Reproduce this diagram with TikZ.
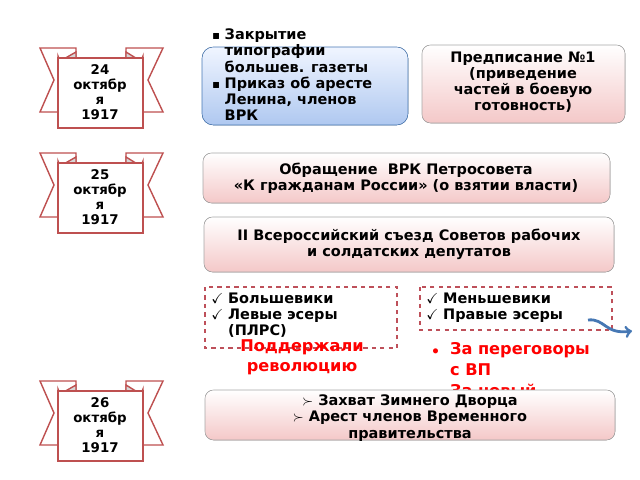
\documentclass[tikz,border=0pt]{standalone}
\usepackage{fontspec}
\setmainfont{DejaVu Sans}
\usepackage{amssymb}
\usetikzlibrary{positioning}

\definecolor{rib}{RGB}{190,80,80}
\definecolor{curl}{RGB}{215,215,215}
\definecolor{pinkA}{RGB}{255,255,255}
\definecolor{pinkB}{RGB}{244,200,200}
\definecolor{blueA}{RGB}{240,245,255}
\definecolor{blueB}{RGB}{175,200,240}
\definecolor{dashc}{RGB}{190,80,90}
\definecolor{arrc}{RGB}{70,120,180}

\tikzset{
  pinkbox/.style={draw=gray!70, rounded corners=6pt, top color=pinkA, bottom color=pinkB},
  bluebox/.style={draw=arrc, rounded corners=8pt, top color=blueA, bottom color=blueB},
  dashbox/.style={draw=dashc, dashed, thick},
  redtext/.style={text=red, font=\bfseries\fontsize{11.5}{14}\selectfont, align=center},
  listtext/.style={font=\bfseries\fontsize{10.3}{11.5}\selectfont, align=left, inner sep=0pt},
  datetext/.style={font=\bfseries\fontsize{9.5}{10.5}\selectfont, align=center, inner sep=0pt}
}

% ribbon with date, shifted down by #1
\newcommand{\ribbon}[2]{%
  \begin{scope}[shift={(0,#1)}, draw=rib, line width=1pt]
    \filldraw[fill=white] (40,48) -- (76,48) -- (76,112) -- (40,112) -- (54,80) -- cycle;
    \filldraw[fill=white] (163,48) -- (126,48) -- (126,112) -- (163,112) -- (148,80) -- cycle;
    \filldraw[fill=curl] (58,56) arc (180:90:4) -- (76,52) -- (76,60) -- (58,60) -- cycle;
    \filldraw[fill=curl] (143,56) arc (0:90:4) -- (126,52) -- (126,60) -- (143,60) -- cycle;
    \filldraw[fill=white] (58,58) rectangle (143,128);
    \node[datetext] at (100,92) {#2};
  \end{scope}}

\begin{document}
\begin{tikzpicture}[x=0.025cm, y=-0.025cm]
  \useasboundingbox (0,0) rectangle (640,480);

  % Ribbons
  \ribbon{0}{24\\октябр\\я\\1917}
  \ribbon{105}{25\\октябр\\я\\1917}
  \ribbon{333}{26\\октябр\\я\\1917}

  % 24 October
  \filldraw[bluebox] (202,47) rectangle (408,125);
  \node[listtext, anchor=north west] (ord) at (212,28)
    {\begin{tabular}{@{}l@{\,\,}l@{}}
      \tiny$\blacksquare$ & Закрытие\\
      & типографии\\
      & большев. газеты\\
      \tiny$\blacksquare$ & Приказ об аресте\\
      & Ленина, членов\\
      & ВРК
    \end{tabular}};
  \filldraw[pinkbox] (422,45) rectangle (625,123);
  \node[listtext, align=center] (pre) at (523,82) {Предписание №1\\(приведение\\частей в боевую\\готовность)};

  % 25 October
  \filldraw[pinkbox] (203,153) rectangle (610,203);
  \node[listtext, align=center] (obr) at (406,178) {Обращение\ \ ВРК Петросовета\\ «К гражданам России» (о взятии власти)};
  \filldraw[pinkbox] (204,217) rectangle (614,272);
  \node[listtext, align=center] (sez) at (409,244) {II Всероссийский съезд Советов рабочих\\и солдатских депутатов};

  % Parties
  \draw[dashbox] (205,287) rectangle (397,348);
  \draw[dashbox] (420,287) rectangle (612,330);
  \node[listtext, anchor=north west] (bol) at (211,292)
    {\begin{tabular}{@{}l@{\,\,}l@{}}
      $\checkmark$ & Большевики\\
      $\checkmark$ & Левые эсеры\\
      & (ПЛРС)
    \end{tabular}};
  \node[listtext, anchor=north west] (men) at (426,292)
    {\begin{tabular}{@{}l@{\,\,}l@{}}
      $\checkmark$ & Меньшевики\\
      $\checkmark$ & Правые эсеры
    \end{tabular}};
  \node[redtext] (sup) at (302,357) {Поддержали\\революцию};
  \node[redtext, anchor=north west, align=left, inner sep=0pt] (neg) at (432,340)
    {\begin{tabular}{@{}l@{\ \ }l@{}}
      \small$\bullet$ & За переговоры\\[1pt]
      & с ВП\\[1pt]
      \small$\bullet$ & За новый
    \end{tabular}};
  \coordinate (ae) at (632,331);
  \draw[arrc, line width=2pt, ->] (588,320) .. controls (605,318) and (605,335) .. (ae);

  % 26 October
  \filldraw[pinkbox] (205,390) rectangle (615,440);
  \node[listtext, align=center] (zah) at (410,418)
    {$\succ$ Захват Зимнего Дворца\\$\succ$ Арест членов Временного\\правительства};
\end{tikzpicture}
\end{document}
